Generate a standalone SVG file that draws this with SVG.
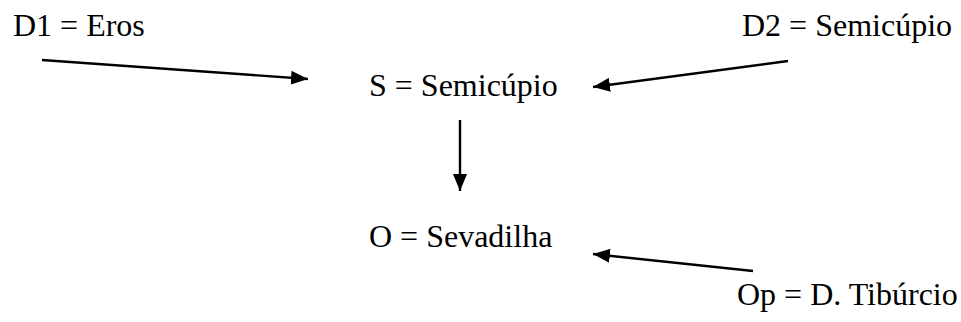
<svg xmlns="http://www.w3.org/2000/svg" width="961" height="322" viewBox="0 0 961 322">
<defs>
<style>
text{font-family:'Liberation Serif','Times New Roman',Times,'DejaVu Serif',serif;font-size:32px;fill:#000}
.c{stroke:#000;stroke-width:2.4;fill:none}
</style>
<marker id="ah" markerUnits="userSpaceOnUse" markerWidth="18" markerHeight="14" refX="17" refY="7" orient="auto">
<path d="M0,0 L17,7 L0,14 Z" fill="#000"/>
</marker>
</defs>
<rect width="961" height="322" fill="#fff"/>
<g id="d1"><text x="13" y="36" font-family="Liberation Serif, serif">D1 = Eros</text></g>
<g id="d2"><text x="742" y="36" font-family="Liberation Serif, serif">D2 = Semicúpio</text></g>
<g id="s"><text x="369" y="96" font-family="Liberation Serif, serif">S = Semicúpio</text></g>
<g id="o"><text x="369" y="247" font-family="Liberation Serif, serif">O = Sevadilha</text></g>
<g id="op"><text x="737" y="305" font-family="Liberation Serif, serif">Op = D. Tibúrcio</text></g>
<g id="connectors">
<line class="c" x1="42" y1="60" x2="308" y2="79" marker-end="url(#ah)"/>
<line class="c" x1="788" y1="61" x2="593" y2="87" marker-end="url(#ah)"/>
<line class="c" x1="460" y1="120" x2="460" y2="191" marker-end="url(#ah)"/>
<line class="c" x1="753" y1="271" x2="593" y2="254" marker-end="url(#ah)"/>
</g>
</svg>
